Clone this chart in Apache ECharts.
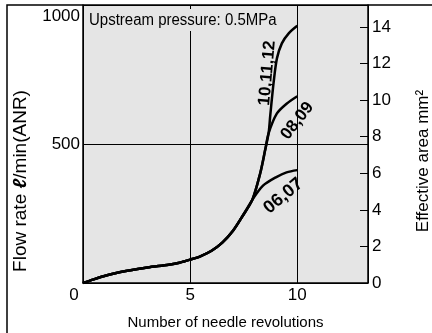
<!DOCTYPE html>
<html>
<head>
<meta charset="utf-8">
<script src="https://cdn.jsdelivr.net/npm/echarts@6/dist/echarts.min.js"></script>
<style>
  html, body { margin: 0; padding: 0; background: #fff; }
  #chart { width: 432px; height: 333px; }
</style>
</head>
<body>
<div id="chart"></div>
<script>
// common part of all curves (needle revolutions -> flow rate l/min ANR)
const trunkRev = [0, 0.5, 1, 1.5, 2, 3, 4, 4.5, 5, 5.5, 6, 6.5, 7, 7.4, 7.9];
const trunkFlow = [0, 13, 25, 35, 43, 56, 66, 73, 84, 97, 116, 145, 188, 235, 299];
// shared by 08,09 and 10,11,12 above the 06,07 branch
const upperRev = [8.27, 8.5, 8.66];
const upperFlow = [395, 478, 538];
// branches
const rev0607 = [8.4, 9, 9.5, 10];
const flow0607 = [350, 380, 398, 406];
const rev0809 = [9.05, 9.5, 10];
const flow0809 = [610, 645, 672];
const rev1012 = [8.74, 8.9, 9.05, 9.28, 9.6, 10];
const flow1012 = [604, 724, 808, 862, 898, 925];

const seriesNames = ["06,07", "08,09", "10,11,12"];
// where the curve names sit (data coords) and their angle
const labelRev = [9.35, 10.0, 8.6];
const labelFlow = [313, 583, 755];
const labelAngle = [40, 52, 85];

const flowTicks = [0, 500, 1000];
const areaTicks = [0, 2, 4, 6, 8, 10, 12, 14];
const revTicks = [0, 5, 10];

const font = "'Liberation Sans', Arial, sans-serif";
const bg = "#e5e5e5";

function pairs(xs, ys) {
  return xs.map((x, i) => [x, ys[i]]);
}

const curves = [
  pairs(trunkRev, trunkFlow).concat(pairs(rev0607, flow0607)),
  pairs(trunkRev, trunkFlow).concat(pairs(upperRev, upperFlow), pairs(rev0809, flow0809)),
  pairs(trunkRev, trunkFlow).concat(pairs(upperRev, upperFlow), pairs(rev1012, flow1012)),
];

const chart = echarts.init(document.getElementById("chart"));

const option = {
  animation: false,
  backgroundColor: "#fff",
  textStyle: { fontFamily: font },
  grid: {
    left: 83,
    right: 64,
    top: 5,
    bottom: 50,
    outerBoundsMode: "none",
    show: true,
    backgroundColor: bg,
    borderWidth: 0,
  },
  xAxis: {
    type: "value",
    min: 0,
    max: 13.3,
    interval: 5,
    name: "Number of needle revolutions",
    nameLocation: "middle",
    nameGap: 32,
    nameTextStyle: { color: "#000", fontSize: 15, fontFamily: font },
    axisLine: { lineStyle: { color: "#000", width: 1.5 } },
    axisTick: { show: false },
    axisLabel: {
      color: "#000",
      fontSize: 17,
      fontFamily: font,
      margin: 4,
      showMaxLabel: false,
      formatter(v) {
        if (v === 0) return "{o|0}";
        return revTicks.includes(v) ? String(v) : "";
      },
      rich: {
        o: { fontSize: 17, fontFamily: font, color: "#000", padding: [0, 18, 0, 0] },
      },
    },
    splitLine: { show: true, lineStyle: { color: "#000", width: 1 } },
  },
  yAxis: [
    {
      type: "value",
      min: 0,
      max: 1000,
      interval: 500,
      axisLine: { show: true, lineStyle: { color: "#000", width: 1.5 } },
      axisTick: { show: false },
      axisLabel: {
        color: "#000",
        fontSize: 17,
        fontFamily: font,
        margin: 3,
        formatter(v) {
          if (v === 0) return "";
          if (v === 1000) return "{t|1000}";
          return flowTicks.includes(v) ? String(v) : "";
        },
        rich: {
          t: { fontSize: 17, fontFamily: font, color: "#000", padding: [22, 0, 0, 0] },
        },
      },
      splitLine: { show: true, lineStyle: { color: "#000", width: 1 } },
    },
    {
      type: "value",
      position: "right",
      min: 0,
      max: 15.2,
      interval: 2,
      axisLine: { show: true, lineStyle: { color: "#000", width: 1.5 } },
      axisTick: { show: true, inside: true, length: 8, lineStyle: { color: "#000", width: 1 } },
      axisLabel: {
        color: "#000",
        fontSize: 17,
        fontFamily: font,
        margin: 4,
        showMaxLabel: false,
        formatter(v) {
          return areaTicks.includes(v) ? String(v) : "";
        },
      },
      splitLine: { show: false },
    },
  ],
  series: curves.map((data, i) => ({
    name: seriesNames[i],
    type: "line",
    data: data,
    smooth: 0.3,
    symbol: "none",
    lineStyle: { color: "#000", width: 2.5 },
    z: 5,
  })),
};

chart.setOption(option);

const graphics = [
  {
    type: "rect",
    shape: { x: 7, y: 5, width: 700, height: 700 },
    style: { fill: "none", stroke: "#000", lineWidth: 1.5 },
    z: 100,
  },
  {
    type: "text",
    x: 87,
    y: 20,
    scaleY: 1.15,
    style: {
      text: "Upstream pressure: 0.5MPa",
      fontSize: 15,
      fontFamily: font,
      fill: "#000",
      align: "left",
      verticalAlign: "middle",
      backgroundColor: bg,
      padding: [2, 2],
    },
    z: 50,
  },
  {
    type: "text",
    x: 21,
    y: 181,
    rotation: Math.PI / 2,
    style: {
      text: "{a|Flow rate }{l|ℓ}{a|/min(ANR)}",
      align: "center",
      verticalAlign: "middle",
      rich: {
        a: { fontSize: 19, fontFamily: font, fill: "#000" },
        l: { fontSize: 19, fontFamily: font, fill: "#000", fontStyle: "italic", fontWeight: "bold" },
      },
    },
    z: 50,
  },
  {
    type: "text",
    x: 423,
    y: 161,
    rotation: Math.PI / 2,
    style: {
      text: "Effective area mm²",
      fontSize: 17,
      fontFamily: font,
      fill: "#000",
      align: "center",
      verticalAlign: "middle",
    },
    z: 50,
  },
];

seriesNames.forEach((name, i) => {
  const p = chart.convertToPixel({ xAxisIndex: 0, yAxisIndex: 0 }, [labelRev[i], labelFlow[i]]);
  graphics.push({
    type: "text",
    x: p[0],
    y: p[1],
    rotation: (labelAngle[i] * Math.PI) / 180,
    style: {
      text: name,
      fontSize: i === 0 ? 18 : 17,
      fontWeight: "bold",
      fontFamily: font,
      fill: "#000",
      align: "center",
      verticalAlign: "middle",
    },
    z: 60,
  });
});

chart.setOption({ graphic: graphics });
</script>
</body>
</html>
